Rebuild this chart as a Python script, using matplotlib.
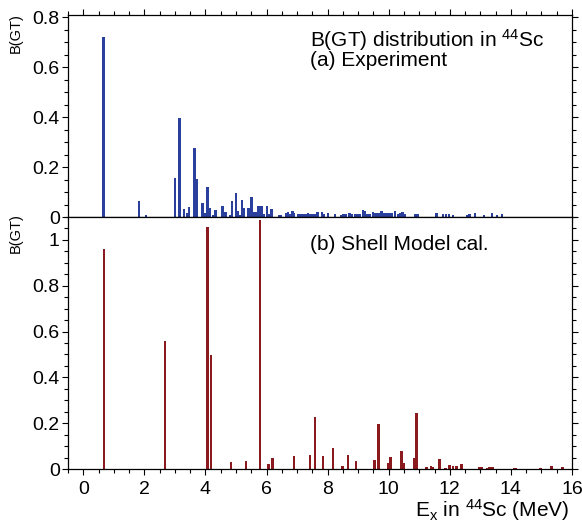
import matplotlib
matplotlib.use("Agg")
import matplotlib.pyplot as plt
from matplotlib.ticker import MultipleLocator, FuncFormatter

plt.rcParams['font.family'] = ['Liberation Sans', 'DejaVu Sans']
plt.rcParams['mathtext.default'] = 'regular'

# ---- data ----
exp_E = [0.66, 1.82, 2.06, 3.01, 3.15, 3.29, 3.41, 3.47, 3.64, 3.72, 3.90, 3.97,
         4.06, 4.15, 4.26, 4.33, 4.56, 4.66, 4.81, 4.87, 5.00, 5.07, 5.12, 5.20,
         5.27, 5.41, 5.51, 5.57, 5.65, 5.73, 5.83, 5.90, 6.02, 6.08, 6.16, 6.42,
         6.47, 6.65, 6.71, 6.78, 6.85, 6.90, 7.03, 7.09, 7.15, 7.21, 7.27, 7.36,
         7.43, 7.50, 7.57, 7.67, 7.82, 7.89, 8.01, 8.25, 8.45, 8.52, 8.60, 8.71,
         8.80, 8.89, 8.96, 9.04, 9.16, 9.21, 9.31, 9.38, 9.49, 9.56, 9.66, 9.77,
         9.86, 9.95, 10.03, 10.11, 10.21, 10.30, 10.38, 10.45, 10.53, 10.88, 10.94,
         11.57, 11.78, 11.88, 11.97, 12.10, 12.57, 12.64, 12.83, 13.12, 13.39,
         13.54, 13.70]
exp_B = [0.720, 0.063, 0.008, 0.157, 0.396, 0.031, 0.015, 0.041, 0.277, 0.151,
         0.055, 0.015, 0.121, 0.037, 0.010, 0.028, 0.044, 0.020, 0.010, 0.065,
         0.096, 0.024, 0.010, 0.068, 0.037, 0.037, 0.079, 0.020, 0.020, 0.043,
         0.043, 0.013, 0.045, 0.011, 0.032, 0.008, 0.008, 0.017, 0.019, 0.013,
         0.023, 0.015, 0.012, 0.011, 0.012, 0.012, 0.011, 0.016, 0.011, 0.013,
         0.013, 0.020, 0.019, 0.013, 0.015, 0.013, 0.008, 0.012, 0.011, 0.017,
         0.011, 0.012, 0.013, 0.011, 0.029, 0.023, 0.013, 0.011, 0.019, 0.016,
         0.015, 0.024, 0.017, 0.017, 0.015, 0.016, 0.025, 0.012, 0.017, 0.020,
         0.012, 0.012, 0.013, 0.016, 0.013, 0.013, 0.011, 0.008, 0.009, 0.013,
         0.016, 0.009, 0.016, 0.009, 0.012]

sm_E = [0.67, 2.68, 4.06, 4.19, 4.84, 5.32, 5.78, 6.07, 6.20, 6.90, 7.42, 7.59,
        7.84, 8.18, 8.49, 8.67, 8.92, 9.54, 9.66, 9.97, 10.06, 10.42, 10.50,
        10.82, 10.91, 11.24, 11.38, 11.43, 11.66, 11.86, 11.99, 12.10, 12.22,
        12.38, 12.97, 13.06, 13.22, 13.30, 13.40, 14.10, 14.17, 14.97, 15.33, 15.69]
sm_B = [0.959, 0.559, 1.055, 0.496, 0.031, 0.034, 1.086, 0.022, 0.047, 0.055,
        0.060, 0.227, 0.057, 0.092, 0.013, 0.060, 0.035, 0.038, 0.195, 0.026,
        0.052, 0.079, 0.028, 0.047, 0.246, 0.008, 0.012, 0.008, 0.045, 0.006,
        0.016, 0.012, 0.012, 0.023, 0.008, 0.007, 0.006, 0.007, 0.010, 0.006,
        0.006, 0.004, 0.013, 0.008]

x_ticks = [0, 2, 4, 6, 8, 10, 12, 14, 16]

W, H = 582, 523
fig = plt.figure(figsize=(W / 100, H / 100), dpi=100)

L, R = 68 / W, 572 / W
ax1 = fig.add_axes([L, 1 - 217 / H, R - L, 202 / H])
ax2 = fig.add_axes([L, 1 - 469 / H, R - L, 252 / H])

blue = '#2b3f9c'
red = '#8a1a1e'
ax1.bar(exp_E, exp_B, width=0.08, color=blue, linewidth=0)
ax2.bar(sm_E, sm_B, width=0.08, color=red, linewidth=0)

def fmt(v, pos):
    s = ('%.1f' % v)
    if s.endswith('.0'):
        s = s[:-2]
    return s

for ax, ymax in ((ax1, 0.808), (ax2, 1.10)):
    ax.set_xlim(-0.5, 16)
    ax.set_ylim(0, ymax)
    ax.xaxis.set_major_locator(MultipleLocator(2))
    ax.xaxis.set_minor_locator(MultipleLocator(0.5))
    ax.yaxis.set_major_locator(MultipleLocator(0.2))
    ax.yaxis.set_minor_locator(MultipleLocator(0.05))
    ax.yaxis.set_major_formatter(FuncFormatter(fmt))
    ax.tick_params(which='both', direction='out', labelsize=14, width=0.8)
    ax.tick_params(which='major', length=4.5)
    ax.tick_params(which='minor', length=2.8)
    ax.tick_params(axis='y', pad=1.5)
    for sp in ax.spines.values():
        sp.set_linewidth(0.9)

ax1.tick_params(which='both', top=True, bottom=True, left=True, right=True,
                labelbottom=False)
ax2.tick_params(which='both', top=False, bottom=True, left=True, right=True)
ax2.set_xticks(x_ticks)
ax2.set_xticklabels([str(t) for t in x_ticks])
ax2.tick_params(axis='x', pad=4)

fig.text(16 / W, 1 - 33 / H, 'B(GT)', rotation=90, ha='center', va='center', fontsize=10.5)
fig.text(16 / W, 1 - 233 / H, 'B(GT)', rotation=90, ha='center', va='center', fontsize=10.5)

fig.text(310 / W, 1 - 46.5 / H, r'B(GT) distribution in $^{44}$Sc', fontsize=15,
         ha='left', va='baseline')
fig.text(310 / W, 1 - 66.5 / H, '(a) Experiment', fontsize=15, ha='left', va='baseline')
fig.text(310 / W, 1 - 249.5 / H, '(b) Shell Model cal.', fontsize=15, ha='left', va='baseline')

fig.text(569 / W, 1 - 516.5 / H, r'E$_{x}$ in $^{44}$Sc (MeV)', fontsize=15,
         ha='right', va='baseline')

fig.savefig('out.png', dpi=100)
